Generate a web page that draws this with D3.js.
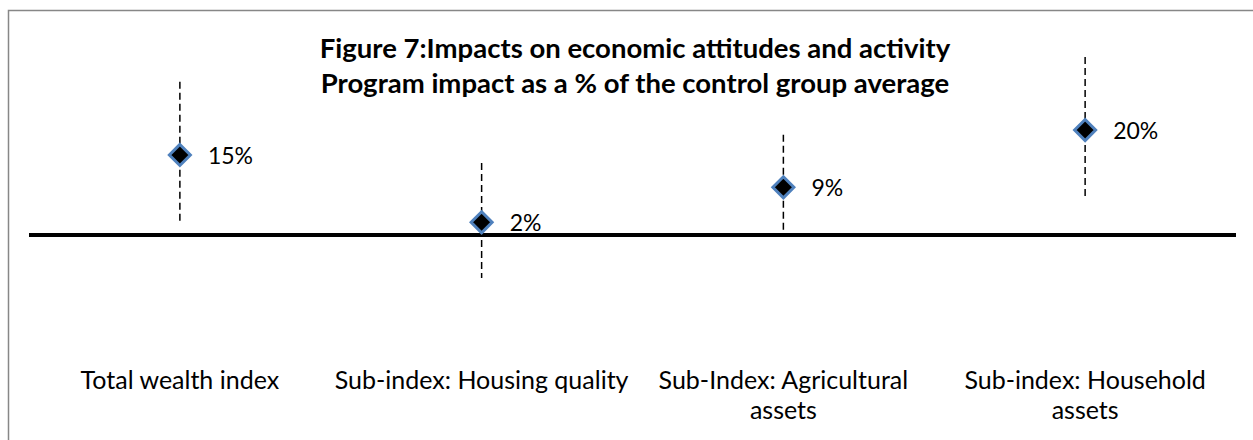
<!DOCTYPE html>
<html>
<head>
<meta charset="utf-8">
<script src="https://cdn.jsdelivr.net/npm/d3@7"></script>
<style>
  body { margin: 0; background: #fff; }
  svg { display: block; }
  text { font-family: Lato, "Open Sans", sans-serif; fill: #000; }
</style>
</head>
<body>
<svg></svg>
<script>
let width = 1253, height = 440;

// categories (tick labels, already split in lines as in the figure)
let categories = ["Total wealth index", "Sub-index: Housing quality", "Sub-Index: Agricultural assets", "Sub-index: Household assets"];
let tickLines = [["Total wealth index"], ["Sub-index: Housing quality"], ["Sub-Index: Agricultural", "assets"], ["Sub-index: Household", "assets"]];

// program impact, % of control group average
let impact = [15.1, 2.4, 9.0, 19.8];
let ciLow = [2.1, -8.1, 0.2, 6.8];
let ciHigh = [28.9, 13.6, 18.9, 33.6];

let titleLines = ["Figure 7:Impacts on economic attitudes and activity", "Program impact as a % of the control group average"];

let svg = d3.select("svg")
    .attr("width", width)
    .attr("height", height)
    .attr("viewBox", "0 0 " + width + " " + height);

// chart frame (right and bottom edges fall outside the picture)
svg.append("rect")
    .attr("x", 8.5)
    .attr("y", 10.5)
    .attr("width", 1300)
    .attr("height", 500)
    .attr("fill", "none")
    .attr("stroke", "#878787")
    .attr("stroke-width", 1.5);

let x = d3.scaleBand()
    .domain(categories)
    .range([29, 1236]);

let y = d3.scaleLinear()
    .domain([-15, 35])
    .range([314.5, 49.5]);

let data = categories.map((c, i) => ({
    cat: c, value: impact[i], lo: ciLow[i], hi: ciHigh[i], lines: tickLines[i]
}));

let cx = d => x(d.cat) + x.bandwidth() / 2;

// error bars
svg.append("g")
    .selectAll("line")
    .data(data)
    .enter()
    .append("line")
    .attr("x1", cx)
    .attr("x2", cx)
    .attr("y1", d => y(d.hi))
    .attr("y2", d => y(d.lo))
    .attr("stroke", "#000")
    .attr("stroke-width", 1.5)
    .attr("stroke-dasharray", "7,4");

// zero line
svg.append("line")
    .attr("x1", x.range()[0])
    .attr("x2", x.range()[1])
    .attr("y1", y(0))
    .attr("y2", y(0))
    .attr("stroke", "#000")
    .attr("stroke-width", 4);

// diamonds
let r = 10.5;
svg.append("g")
    .selectAll("path")
    .data(data)
    .enter()
    .append("path")
    .attr("transform", d => "translate(" + cx(d) + "," + y(d.value) + ")")
    .attr("d", "M0," + (-r) + "L" + r + ",0L0," + r + "L" + (-r) + ",0Z")
    .attr("fill", "#000")
    .attr("stroke", "#4F81BD")
    .attr("stroke-width", 3);

// value labels
svg.append("g")
    .selectAll("text")
    .data(data)
    .enter()
    .append("text")
    .attr("x", d => cx(d) + 28)
    .attr("y", d => y(d.value) + 9)
    .attr("font-size", "23px")
    .text(d => Math.round(d.value) + "%");

// category labels
let ticks = svg.append("g")
    .selectAll("text")
    .data(data)
    .enter()
    .append("text")
    .attr("text-anchor", "middle")
    .attr("font-size", "25px");

ticks.selectAll("tspan")
    .data(d => d.lines.map(l => ({ l: l, x: cx(d) })))
    .enter()
    .append("tspan")
    .attr("x", t => t.x)
    .attr("y", (t, i) => 389 + i * 30)
    .text(t => t.l);

// title
svg.append("text")
    .attr("text-anchor", "middle")
    .attr("font-size", "27.5px")
    .attr("font-weight", "bold")
    .selectAll("tspan")
    .data(titleLines)
    .enter()
    .append("tspan")
    .attr("x", 635)
    .attr("y", (d, i) => 58 + i * 35)
    .text(d => d);
</script>
</body>
</html>
